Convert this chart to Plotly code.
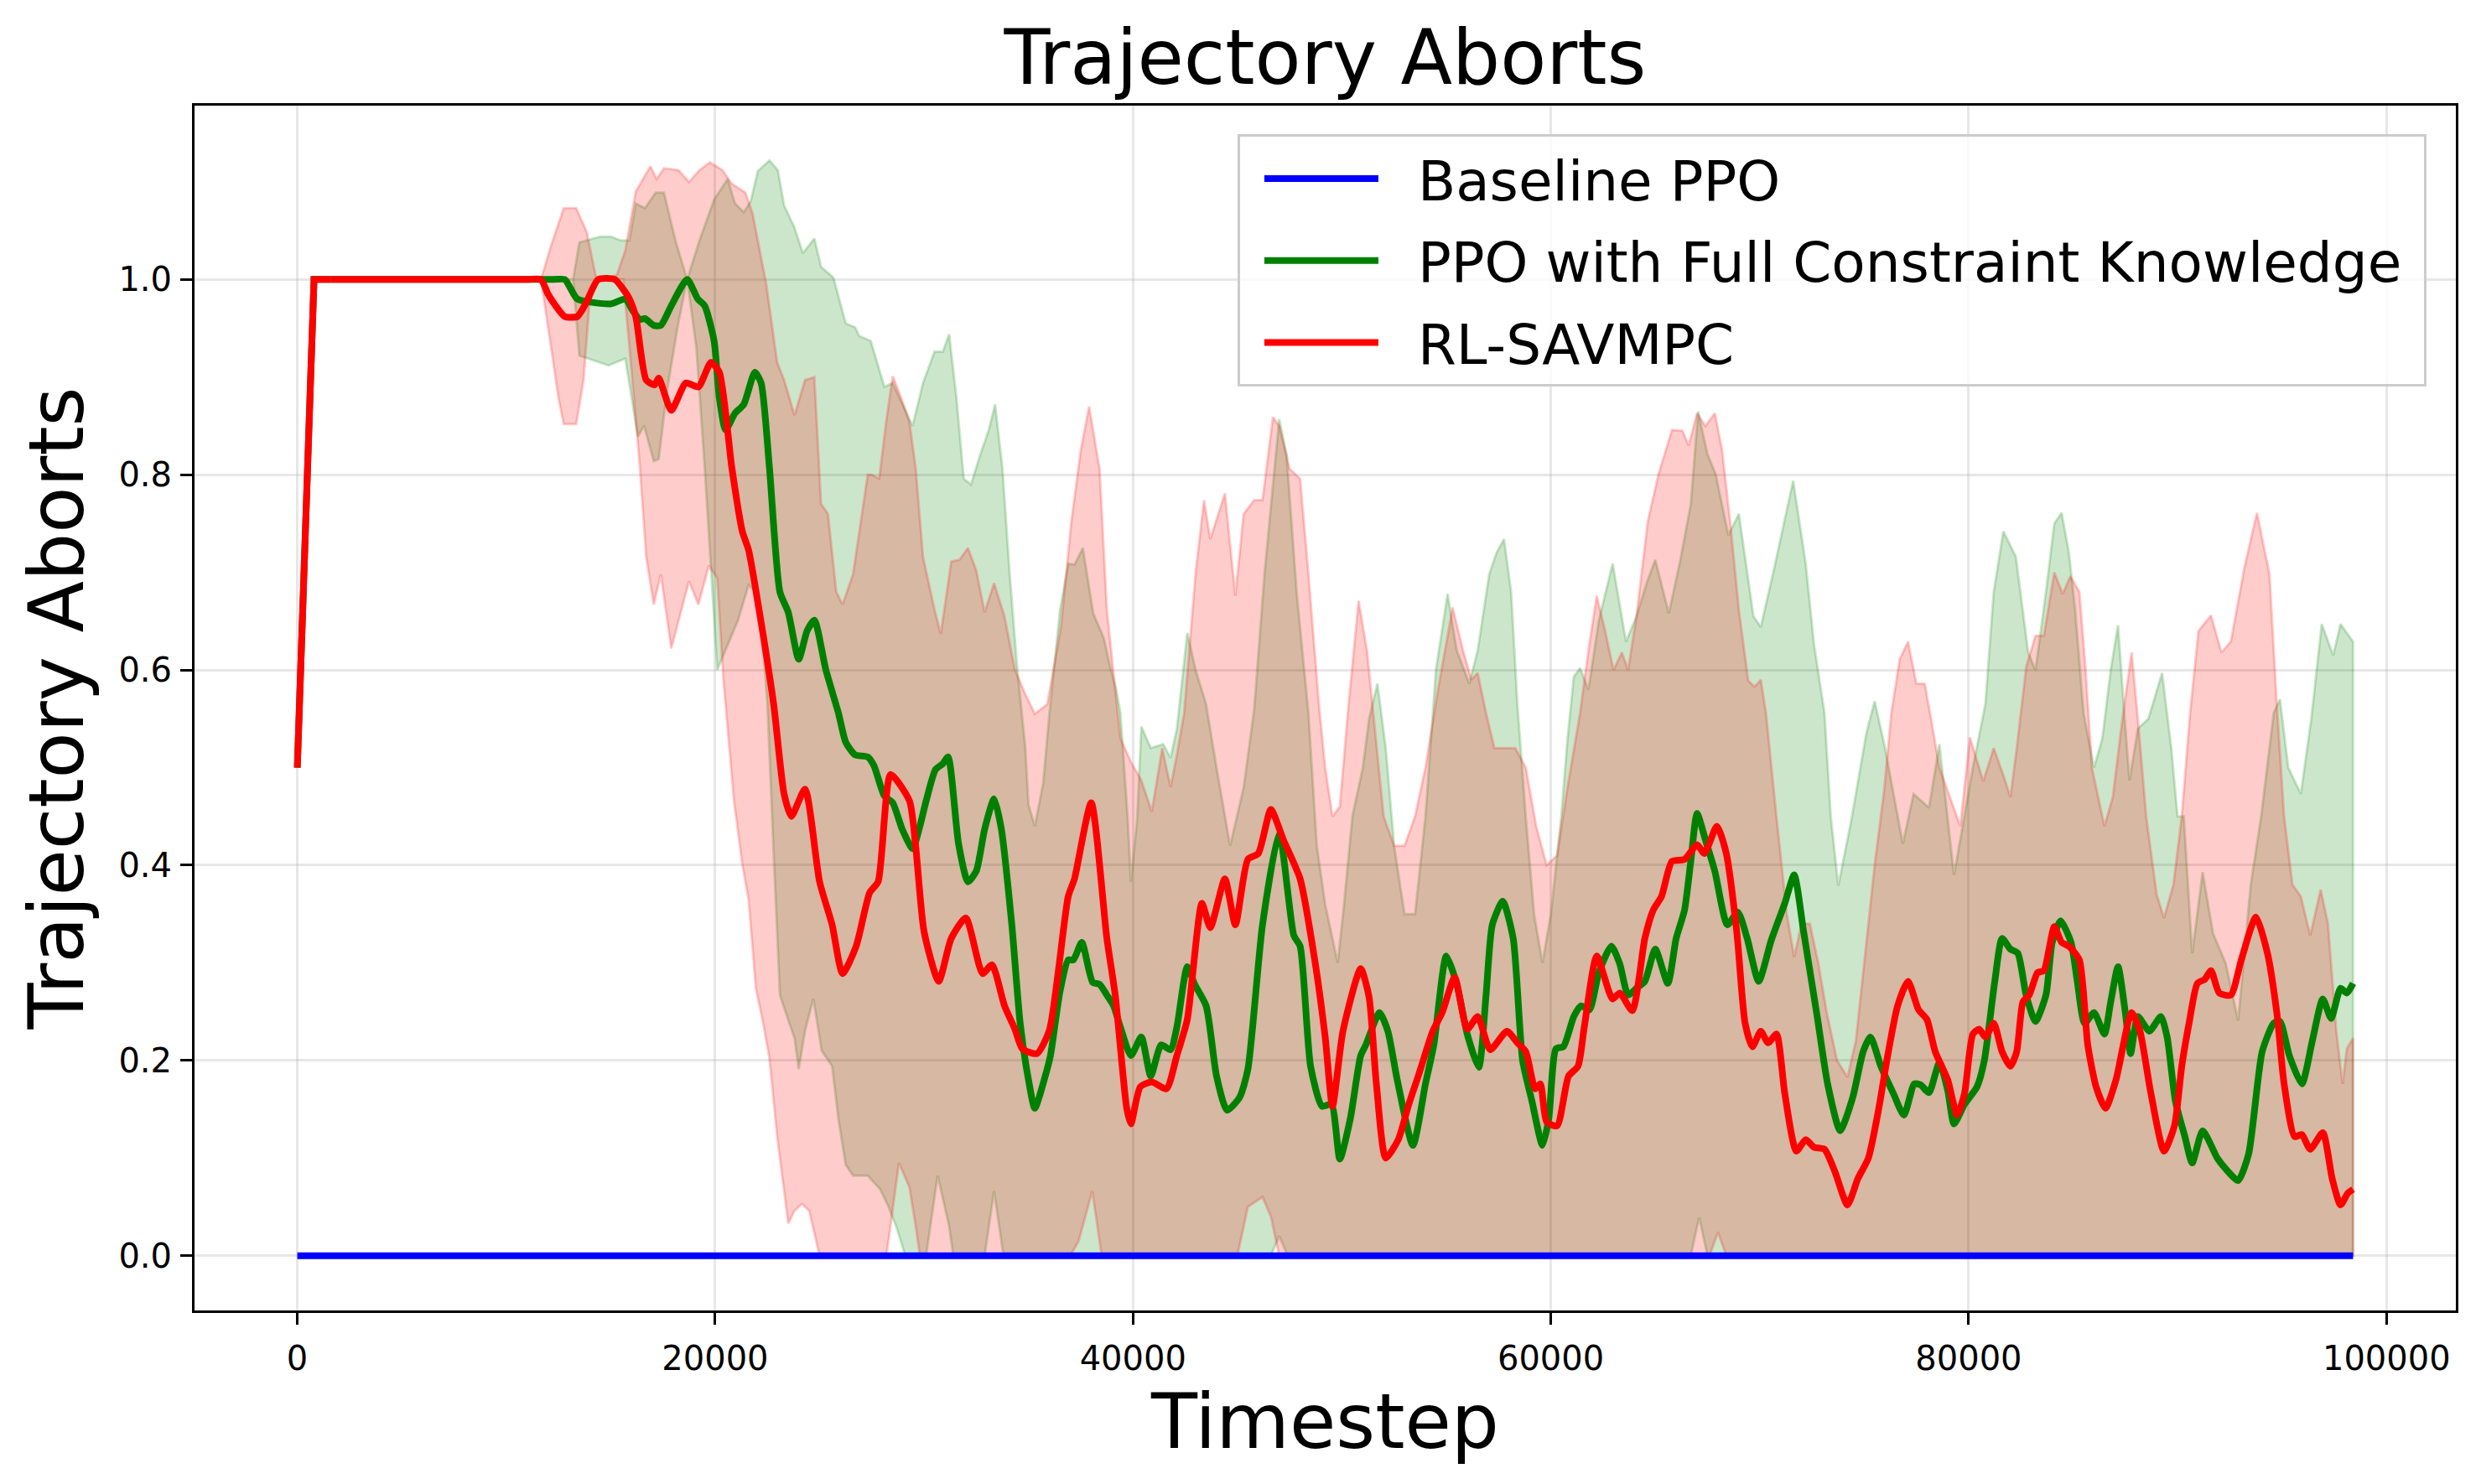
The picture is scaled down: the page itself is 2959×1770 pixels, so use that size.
import plotly.graph_objects as go

# ---------------- data (timestep, value) ----------------
baseline = [(0, 0.0), (98400, 0.0)]

red_mean = [(0,0.5),(800,1.0),(1600,1.0),(11000,1.0),(11660,1.0),(12000,0.985),(12300,0.975),(12800,0.962),(13400,0.962),(13800,0.975),
 (14400,1.0),(15200,1.0),(15600,0.99),(15900,0.98),(16200,0.962),(16700,0.897),(17100,0.892),(17300,0.899),
 (17900,0.866),(18600,0.894),(19200,0.89),(19800,0.915),(20200,0.905),(20800,0.807),(21300,0.742),(21600,0.723),
 (22100,0.662),(22800,0.565),(23300,0.473),(23650,0.45),(24300,0.478),(25000,0.383),(25600,0.339),(26100,0.289),
 (26750,0.317),(27400,0.372),(27800,0.383),(28400,0.493),(29300,0.466),(29600,0.419),(30000,0.332),(30700,0.281),
 (31300,0.325),(32000,0.346),(32800,0.289),(33250,0.298),(33850,0.256),(34350,0.232),(34700,0.212),(35400,0.207),
 (36000,0.231),(36900,0.368),(37200,0.386),(38000,0.464),(38750,0.325),(39150,0.267),(39700,0.151),(39900,0.135),
 (40350,0.173),(40900,0.178),(41600,0.171),(42100,0.205),(42600,0.242),(43300,0.361),(43700,0.336),(44400,0.386),
 (44900,0.339),(45500,0.406),(46000,0.412),(46600,0.457),(47200,0.426),(48000,0.386),(48700,0.303),(49200,0.224),
 (49550,0.153),(50050,0.23),(50900,0.294),(51300,0.265),(51650,0.176),(52100,0.1),(52700,0.119),(53200,0.155),
 (53700,0.187),(54350,0.23),(54800,0.249),(55400,0.285),(56000,0.232),(56500,0.245),(57100,0.211),(57900,0.23),
 (58400,0.218),(58800,0.209),(59250,0.171),(59500,0.176),(59800,0.137),(60300,0.133),(60850,0.184),(61300,0.194),
 (61600,0.234),(62200,0.307),(62950,0.263),(63300,0.269),(63900,0.251),(64500,0.325),(64900,0.354),(65300,0.368),
 (65800,0.404),(66400,0.406),(67000,0.421),(67350,0.412),(67950,0.44),(68400,0.412),(68900,0.332),(69300,0.238),
 (69650,0.214),(70050,0.23),(70400,0.218),(70800,0.227),(71200,0.166),(71750,0.107),(72200,0.119),(72600,0.111),
 (73100,0.109),(73600,0.086),(74200,0.052),(74700,0.079),(75200,0.1),(75700,0.151),(76100,0.202),(76600,0.256),
 (77100,0.281),(77600,0.252),(78000,0.242),(78400,0.209),(79000,0.18),(79450,0.144),(79800,0.166),(80200,0.227),
 (80500,0.232),(80800,0.224),(81200,0.238),(81600,0.209),(82000,0.194),(82300,0.209),(82600,0.26),(82900,0.267),
 (83300,0.29),(83600,0.292),(84100,0.337),(84450,0.321),(84800,0.317),(85300,0.303),(85700,0.216),(86100,0.173),
 (86550,0.151),(87050,0.18),(87800,0.249),(88200,0.23),(88700,0.169),(89350,0.107),(89850,0.133),(90200,0.194),
 (90550,0.238),(90950,0.279),(91300,0.283),(91600,0.292),(92000,0.269),(92550,0.267),(93050,0.303),(93750,0.347),
 (94300,0.31),(94750,0.249),(95100,0.176),(95600,0.122),(95950,0.124),(96350,0.109),(96950,0.126),(97400,0.079),
 (97800,0.052),(98150,0.064),(98400,0.068)]

green_mean = [(0,0.5),(800,1.0),(1600,1.0),(12200,1.0),(12800,1.0),(13100,0.99),(13400,0.98),(15000,0.975),(15700,0.98),(16000,0.97),
 (16400,0.959),(16640,0.96),(17060,0.953),(17400,0.953),(17900,0.973),(18660,1.0),(19170,0.98),(19500,0.973),
 (19950,0.937),(20200,0.879),(20500,0.846),(20950,0.863),(21370,0.872),(21900,0.905),(22200,0.894),(22600,0.807),
 (23100,0.68),(23500,0.659),(24000,0.611),(24400,0.64),(24750,0.651),(25300,0.6),(25900,0.556),(26250,0.526),
 (26700,0.513),(27300,0.511),(27600,0.502),(28100,0.471),(28500,0.464),(28950,0.437),(29450,0.417),(29800,0.44),
 (30100,0.466),(30550,0.498),(30900,0.504),(31150,0.511),(31650,0.422),(32100,0.383),(32500,0.394),(32900,0.437),
 (33350,0.468),(33700,0.437),(34200,0.339),(34600,0.238),(35000,0.18),(35300,0.151),(35800,0.184),(36050,0.205),
 (36500,0.27),(36900,0.303),(37150,0.303),(37550,0.321),(38070,0.28),(38400,0.278),(38750,0.267),(39070,0.256),
 (39400,0.234),(39900,0.205),(40400,0.224),(40850,0.184),(41350,0.216),(41800,0.211),(42100,0.234),(42600,0.296),
 (42950,0.278),(43500,0.256),(44000,0.184),(44500,0.149),(45100,0.162),(45500,0.191),(46200,0.339),(47000,0.433),
 (47700,0.328),(48000,0.317),(48500,0.194),(49050,0.153),(49500,0.155),(49900,0.099),(50400,0.14),(50900,0.205),
 (51150,0.216),(51800,0.249),(52200,0.23),(52650,0.18),(53400,0.113),(54000,0.176),(54400,0.216),(55000,0.307),
 (55500,0.278),(56000,0.227),(56550,0.193),(56900,0.267),(57200,0.339),(57700,0.363),(58200,0.325),(58650,0.2),
 (59100,0.158),(59600,0.113),(59900,0.14),(60250,0.212),(60600,0.214),(61100,0.245),(61450,0.256),(61850,0.252),
 (62300,0.29),(62900,0.317),(63300,0.299),(63700,0.267),(64100,0.274),(64500,0.281),(65000,0.314),(65600,0.279),
 (66000,0.325),(66400,0.354),(66700,0.404),(67000,0.453),(67400,0.426),(67850,0.394),(68450,0.339),(68950,0.352),
 (69400,0.325),(69950,0.281),(70550,0.323),(71200,0.361),(71650,0.39),(72100,0.332),(72750,0.245),(73250,0.176),
 (73850,0.128),(74450,0.162),(74950,0.209),(75300,0.224),(75800,0.194),(76400,0.166),(76900,0.144),(77400,0.176),
 (77700,0.175),(78100,0.167),(78600,0.198),(79000,0.169),(79300,0.135),(79800,0.155),(80400,0.173),(80750,0.2),
 (81250,0.281),(81600,0.325),(82000,0.314),(82350,0.31),(82750,0.267),(83200,0.24),(83700,0.267),(84000,0.321),
 (84400,0.343),(84900,0.321),(85200,0.281),(85550,0.238),(86000,0.249),(86500,0.227),(86800,0.26),(87150,0.296),
 (87500,0.249),(87750,0.207),(88100,0.245),(88650,0.23),(89200,0.245),(89500,0.224),(89900,0.158),(90350,0.122),
 (90700,0.095),(91200,0.128),(91900,0.1),(92300,0.089),(92900,0.077),(93400,0.104),(94050,0.209),(94600,0.238),
 (94900,0.24),(95350,0.205),(95950,0.176),(96450,0.22),(96950,0.263),(97350,0.243),(97800,0.274),(98100,0.269),
 (98400,0.279)]

red_upper = [(0,0.5),(800,1.0),(11660,1.0),(12150,1.035),(12750,1.073),(13350,1.073),(13850,1.049),(14300,1.002),
 (14800,1.0),(15300,1.005),(15700,1.03),(16200,1.09),(16900,1.116),(17200,1.103),(17550,1.114),(18250,1.112),
 (18750,1.1),(19250,1.112),(19750,1.12),(20350,1.112),(20800,1.098),(21450,1.089),(21800,1.067),(22450,0.995),
 (22970,0.915),(23300,0.897),(23800,0.861),(24300,0.897),(24750,0.9),(25070,0.77),(25400,0.76),(25800,0.68),
 (26100,0.667),(26600,0.698),(27300,0.8),(27500,0.8),(27850,0.796),(28200,0.857),(28500,0.901),(28900,0.879),
 (29300,0.854),(29600,0.807),(29950,0.716),(30500,0.662),(30800,0.637),(31300,0.711),(31700,0.713),(32100,0.725),
 (32500,0.702),(32900,0.659),(33350,0.689),(33850,0.655),(34350,0.6),(34850,0.575),(35300,0.555),(35900,0.565),
 (36550,0.644),(37050,0.752),(37500,0.825),(37900,0.87),(38400,0.806),(38750,0.662),(39100,0.59),(39400,0.53),
 (39900,0.506),(40400,0.487),(40900,0.455),(41400,0.52),(41800,0.48),(42100,0.513),(42450,0.556),(43000,0.7),
 (43400,0.774),(43700,0.734),(44400,0.781),(44900,0.676),(45300,0.76),(45800,0.774),(46200,0.774),(46700,0.859),
 (47000,0.85),(47500,0.806),(48000,0.796),(48400,0.698),(48900,0.565),(49200,0.5),(49550,0.45),(49900,0.46),
 (50300,0.56),(50800,0.671),(51200,0.62),(51500,0.556),(52000,0.45),(52500,0.42),(53000,0.42),(53500,0.45),
 (54000,0.5),(54600,0.58),(55300,0.664),(55800,0.62),(56200,0.59),(56500,0.597),(56900,0.556),(57300,0.52),
 (57800,0.52),(58300,0.52),(58800,0.5),(59300,0.44),(59800,0.4),(60300,0.41),(60800,0.48),(61400,0.556),
 (61800,0.62),(62200,0.676),(62600,0.64),(63000,0.6),(63400,0.618),(63700,0.6),(64100,0.655),(64640,0.752),
 (65150,0.8),(65800,0.846),(66300,0.845),(66600,0.83),(67000,0.863),(67400,0.85),(67850,0.863),(68200,0.825),
 (68600,0.749),(69000,0.662),(69450,0.589),(69750,0.583),(70050,0.59),(70300,0.556),(70800,0.45),(71300,0.35),
 (71650,0.306),(72000,0.34),(72400,0.34),(72800,0.3),(73200,0.25),(73700,0.2),(74200,0.183),(74600,0.22),
 (75100,0.32),(75500,0.4),(75950,0.476),(76300,0.556),(76700,0.611),(77100,0.629),(77500,0.586),(77900,0.586),
 (78200,0.55),(78600,0.5),(79100,0.47),(79600,0.44),(80060,0.531),(80700,0.486),(81200,0.52),(81650,0.493),
 (82000,0.47),(82300,0.52),(82760,0.604),(83200,0.635),(83600,0.635),(84100,0.7),(84500,0.678),(84870,0.696),
 (85300,0.68),(85600,0.6),(85900,0.5),(86500,0.44),(86900,0.47),(87300,0.54),(87800,0.618),(88100,0.55),
 (88500,0.45),(89000,0.37),(89350,0.346),(89800,0.38),(90200,0.45),(90600,0.556),(91000,0.64),(91600,0.656),
 (92100,0.618),(92550,0.629),(93200,0.705),(93800,0.761),(94400,0.698),(94750,0.565),(95100,0.45),(95500,0.38),
 (95900,0.368),(96350,0.328),(96850,0.375),(97200,0.34),(97600,0.23),(97900,0.176),(98100,0.212),(98400,0.223)]

red_lower = [(0,0.5),(800,1.0),(11660,1.0),(11800,0.98),(12150,0.93),(12500,0.879),(12750,0.852),(13350,0.852),
 (13700,0.897),(14000,0.98),(14300,1.0),(15600,1.0),(15900,0.93),(16400,0.807),(16700,0.716),(17060,0.667),
 (17400,0.698),(17900,0.622),(18400,0.662),(18750,0.691),(19200,0.667),(19700,0.707),(20100,0.694),(20400,0.589),
 (20900,0.466),(21300,0.401),(21600,0.365),(21950,0.274),(22300,0.238),(22600,0.202),(22970,0.122),(23500,0.033),
 (23800,0.046),(24150,0.053),(24500,0.046),(25000,0.0),(28200,0.0),(28800,0.095),(29300,0.07),(29600,0.03),
 (29800,0.0),(37000,0.0),(37400,0.015),(38050,0.066),(38500,0.0),(45000,0.0),(45500,0.05),(46200,0.06),
 (46600,0.04),(47000,0.0),(67600,0.0),(68000,0.024),(68400,0.0),(98400,0.0)]

green_upper = [(0,0.5),(800,1.0),(13200,1.0),(13500,1.038),(14500,1.044),(15000,1.044),(15500,1.04),(15900,1.04),
 (16200,1.078),(16640,1.073),(17150,1.089),(17550,1.089),(18100,1.04),(18660,1.0),(19250,1.04),(19950,1.082),
 (20600,1.103),(20950,1.078),(21370,1.069),(21700,1.08),(22040,1.111),(22600,1.122),(23000,1.112),(23300,1.076),
 (23800,1.053),(24200,1.027),(24750,1.042),(25070,1.013),(25660,1.002),(26250,0.955),(26700,0.951),(26900,0.942),
 (27450,0.937),(28100,0.89),(28500,0.894),(29450,0.85),(29950,0.894),(30500,0.926),(30900,0.926),(31200,0.944),
 (31550,0.879),(31900,0.796),(32250,0.79),(32650,0.818),(33100,0.846),(33400,0.872),(33750,0.807),(34100,0.698),
 (34450,0.604),(34850,0.52),(35000,0.462),(35300,0.44),(35700,0.484),(36000,0.556),(36500,0.66),(36900,0.709),
 (37200,0.708),(37600,0.725),(38100,0.658),(38600,0.633),(38900,0.604),(39200,0.58),(39400,0.556),(39750,0.448),
 (39900,0.383),(40200,0.448),(40400,0.542),(40850,0.52),(41450,0.524),(41800,0.51),(42100,0.54),(42600,0.638),
 (43000,0.6),(43500,0.565),(44000,0.5),(44650,0.42),(45300,0.48),(45800,0.56),(46300,0.7),(47000,0.857),
 (47350,0.821),(47850,0.676),(48400,0.556),(48800,0.42),(49200,0.36),(49800,0.3),(50100,0.36),(50500,0.45),
 (51000,0.5),(51300,0.55),(51700,0.586),(52100,0.52),(52500,0.42),(53000,0.35),(53500,0.35),(54000,0.45),
 (54500,0.6),(55060,0.678),(55500,0.62),(56100,0.586),(56500,0.62),(57050,0.698),(57400,0.72),(57760,0.734),
 (58100,0.68),(58400,0.565),(58800,0.45),(59200,0.35),(59600,0.3),(60000,0.35),(60500,0.45),(60800,0.53),
 (61100,0.593),(61400,0.602),(61800,0.58),(62300,0.651),(62960,0.709),(63600,0.629),(64100,0.655),(64600,0.69),
 (65000,0.713),(65650,0.658),(66200,0.713),(66700,0.77),(67050,0.865),(67500,0.821),(67900,0.8),(68500,0.738),
 (69000,0.76),(69700,0.655),(70050,0.644),(70700,0.705),(71600,0.794),(72200,0.709),(72600,0.626),(73100,0.556),
 (73400,0.45),(73760,0.379),(74400,0.448),(75100,0.535),(75500,0.568),(75800,0.54),(76000,0.52),(76850,0.422),
 (77360,0.473),(78100,0.459),(78600,0.524),(79300,0.39),(79700,0.44),(80200,0.5),(80800,0.565),(81200,0.68),
 (81660,0.742),(82260,0.716),(82850,0.618),(83200,0.6),(83700,0.68),(84100,0.75),(84450,0.761),(84800,0.72),
 (85100,0.662),(85500,0.556),(86000,0.5),(86400,0.53),(86800,0.6),(87150,0.646),(87450,0.556),(87700,0.487),
 (88100,0.54),(88600,0.55),(89260,0.597),(89700,0.52),(90000,0.45),(90300,0.45),(90700,0.31),(91200,0.393),
 (91700,0.33),(92300,0.3),(92900,0.241),(93500,0.38),(94000,0.45),(94600,0.556),(94900,0.57),(95300,0.5),
 (95900,0.473),(96400,0.55),(96900,0.647),(97450,0.615),(97800,0.647),(98400,0.629)]

green_lower = [(0,0.5),(800,1.0),(13200,1.0),(13500,0.922),(14900,0.912),(15700,0.919),(16000,0.879),(16300,0.839),
 (16600,0.85),(17060,0.814),(17300,0.816),(17700,0.886),(18200,0.951),(18660,1.0),(19100,0.93),(19500,0.807),
 (19850,0.687),(20100,0.6),(20500,0.62),(21100,0.651),(21600,0.687),(22100,0.676),(22500,0.565),(22800,0.412),
 (23100,0.267),(23500,0.241),(23800,0.223),(24000,0.191),(24300,0.23),(24700,0.263),(25100,0.21),(25600,0.194),
 (25900,0.14),(26250,0.093),(26600,0.082),(27300,0.082),(27900,0.068),(28300,0.05),(28700,0.028),(29100,0.0),
 (30100,0.0),(30650,0.082),(31200,0.03),(31400,0.0),(32900,0.0),(33350,0.066),(33800,0.0),(46600,0.0),
 (47000,0.02),(47400,0.0),(66700,0.0),(67100,0.039),(67500,0.0),(98400,0.0)]

x_ticks = [0, 20000, 40000, 60000, 80000, 100000]
x_tick_labels = ["0", "20000", "40000", "60000", "80000", "100000"]
y_ticks = [0.0, 0.2, 0.4, 0.6, 0.8, 1.0]
y_tick_labels = ["0.0", "0.2", "0.4", "0.6", "0.8", "1.0"]

names = ["Baseline PPO", "PPO with Full Constraint Knowledge", "RL-SAVMPC"]
NB = "\u00a0"  # non-breaking spaces give the gap/padding around legend labels
RAMP = 3       # first points (start ramp + flat) are drawn straight, the rest smoothed


def xs(s):
    return [p[0] for p in s]


def ys(s):
    return [p[1] for p in s]


def band(upper, lower, rgb):
    return go.Scatter(
        x=xs(upper) + xs(lower)[::-1],
        y=ys(upper) + ys(lower)[::-1],
        mode="lines", fill="toself",
        fillcolor="rgba(%d,%d,%d,0.2)" % rgb,
        line=dict(color="rgba(%d,%d,%d,0.2)" % rgb, width=3),
        showlegend=False, hoverinfo="skip")


def mean_traces(series, name, color, group):
    head = series[:RAMP]
    tail = series[RAMP - 1:]
    return [
        go.Scatter(x=xs(head), y=ys(head), mode="lines", legendgroup=group, showlegend=False,
                   line=dict(color=color, width=8), hoverinfo="skip"),
        go.Scatter(x=xs(tail), y=ys(tail), mode="lines", name=NB * 2 + name + NB,
                   legendgroup=group,
                   line=dict(color=color, width=8, shape="spline", smoothing=0.6)),
    ]


FONT = "DejaVu Sans"
fig = go.Figure()
fig.add_trace(band(green_upper, green_lower, (0, 128, 0)))
fig.add_trace(band(red_upper, red_lower, (255, 0, 0)))
fig.add_trace(go.Scatter(x=xs(baseline), y=ys(baseline), mode="lines", name=NB * 2 + names[0] + NB,
                         legendgroup="g0", line=dict(color="#0000ff", width=8)))
for tr in mean_traces(green_mean, names[1], "#008000", "g1"):
    fig.add_trace(tr)
for tr in mean_traces(red_mean, names[2], "#ff0000", "g2"):
    fig.add_trace(tr)

T = baseline[-1][0]
ymax = max(ys(green_upper) + ys(red_upper))
ymin = 0.0
pad = (ymax - ymin) * 0.05

axis_common = dict(showline=True, linecolor="black", linewidth=3, mirror=True,
                   ticks="outside", ticklen=14, tickwidth=3, tickcolor="black",
                   showgrid=True, gridcolor="rgba(176,176,176,0.3)", gridwidth=3,
                   zeroline=False, tickfont=dict(family=FONT, size=40, color="black"))

fig.update_layout(
    width=2959, height=1770,
    margin=dict(l=232, r=30, t=126, b=207, autoexpand=False),
    paper_bgcolor="white", plot_bgcolor="white",
    font=dict(family=FONT, color="black"),
    title=dict(text="Trajectory Aborts", x=0.5, xref="paper", xanchor="center",
               y=1 - 68 / 1770, yref="container", yanchor="middle",
               font=dict(family=FONT, size=90, color="black")),
    xaxis=dict(range=[-0.05 * T, 1.05 * T], tickvals=x_ticks, ticktext=x_tick_labels,
               title=dict(text="Timestep", font=dict(family=FONT, size=90), standoff=0),
               ticklabelstandoff=6, **axis_common),
    yaxis=dict(range=[ymin - pad, ymax + pad], tickvals=y_ticks, ticktext=y_tick_labels,
               title=dict(text="Trajectory Aborts", font=dict(family=FONT, size=90), standoff=12),
               ticklabelstandoff=2, **axis_common),
    legend=dict(x=0.987, y=0.976, xanchor="right", yanchor="top",
                bgcolor="rgba(255,255,255,0.8)", bordercolor="#cccccc", borderwidth=3,
                font=dict(family=FONT, size=66, color="black"), itemwidth=136,
                tracegroupgap=9, indentation=24),
)

fig.write_html("out.html", config={"displayModeBar": False},
               post_script="document.body.style.margin='0px';")
